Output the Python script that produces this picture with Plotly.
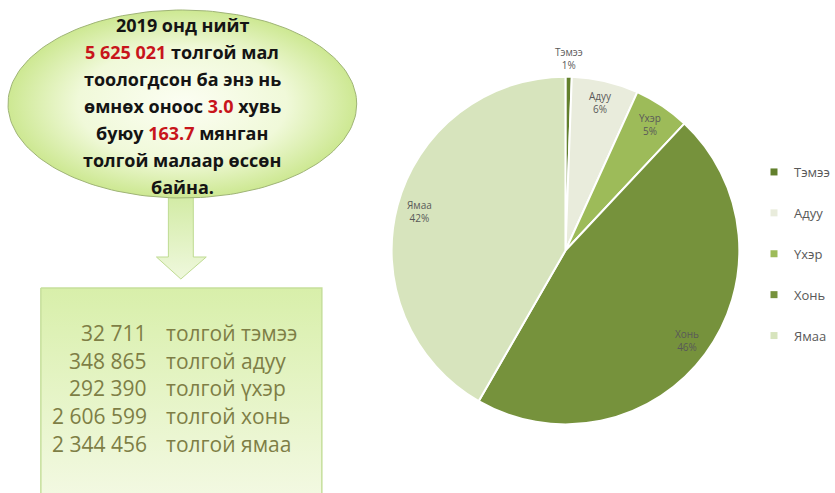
import numpy as np
import plotly.graph_objects as go

# ---- data ----
labels = ["Тэмээ", "Адуу", "Үхэр", "Хонь", "Ямаа"]
values = [32711, 348865, 292390, 2606599, 2344456]
colors = ["#62802c", "#e9ecdc", "#9dbb59", "#76923c", "#d7e4bd"]
year = 2019
growth_pct = 3.0
growth_heads_thousand = 163.7

W, H = 835, 493
FONT = "Open Sans"
total = sum(values)


def fmt(n):
    return f"{n:,}".replace(",", " ")


def py(y):
    # pixel-from-top -> axis value
    return H - y


fig = go.Figure()

# ---- arrow ----
arr_x = [169, 194, 194, 207, 181.5, 157, 169, 169]
arr_y = [195, 195, 257, 257, 279, 257, 257, 195]
fig.add_trace(go.Scatter(
    x=arr_x, y=[py(v) for v in arr_y], mode="lines", fill="toself",
    line=dict(color="#bfdb92", width=1),
    fillgradient=dict(type="vertical", colorscale=[[0, "#eff8dd"], [1, "#d2eba4"]]),
    hoverinfo="skip", showlegend=False))

# ---- ellipse ----
t = np.linspace(0, 2 * np.pi, 181)
ex = 183 + 175 * np.cos(t)
ey = 104 + 94 * np.sin(t)
fig.add_trace(go.Scatter(
    x=ex, y=[py(v) for v in ey], mode="lines", fill="toself",
    line=dict(color="#9fb476", width=1),
    fillgradient=dict(type="radial", colorscale=[[0, "#fcfef3"], [0.6, "#f0f9d9"], [1, "#cde892"]]),
    hoverinfo="skip", showlegend=False))

# ---- box ----
bx = [41, 323, 323, 41, 41]
by = [288, 288, 500, 500, 288]
fig.add_trace(go.Scatter(
    x=bx, y=[py(v) for v in by], mode="lines", fill="toself",
    line=dict(color="#c6df9c", width=1.5),
    fillgradient=dict(type="vertical", colorscale=[[0, "#f3f9e3"], [1, "#d8efaa"]]),
    hoverinfo="skip", showlegend=False))

# ---- pie ----
pie_l, pie_r, pie_t, pie_b = 393, 742, 76, 425
fig.add_trace(go.Pie(
    labels=labels, values=values, sort=False, direction="clockwise", rotation=0,
    marker=dict(colors=colors, line=dict(color="white", width=2)),
    textinfo="none", hoverinfo="label+value+percent", showlegend=False,
    domain=dict(x=[pie_l / W, pie_r / W], y=[1 - pie_b / H, 1 - pie_t / H])))

# legend entries
for lab, col in zip(labels, colors):
    fig.add_trace(go.Scatter(
        x=[None], y=[None], mode="markers", name=lab, legendgroup=lab,
        marker=dict(symbol="square", size=7, color=col), hoverinfo="skip"))

# pie labels
cx, cy = (pie_l + pie_r) / 2, (pie_t + pie_b) / 2
R = (pie_r - pie_l) / 2
cum = 0.0
for lab, v in zip(labels, values):
    frac = v / total
    mid = 2 * np.pi * (cum + frac / 2)
    cum += frac
    r = R * (1.1 if frac < 0.02 else 0.87)
    lx = cx + r * np.sin(mid)
    ly = cy - r * np.cos(mid)
    fig.add_annotation(x=lx, y=py(ly), xref="x", yref="y", showarrow=False,
                       text=f"{lab}<br>{frac * 100:.0f}%",
                       font=dict(family=FONT, size=10, color="#595959"))

# ellipse text
red = "#c8151b"


def rd(s):
    return f'<span style="color:{red}">{s}</span>'


lines = [
    f"{year} онд нийт",
    f"{rd(fmt(total))} толгой мал",
    "тоологдсон ба энэ нь",
    f"өмнөх оноос {rd(f'{growth_pct:.1f}')} хувь",
    f"буюу {rd(f'{growth_heads_thousand:.1f}')} мянган",
    "толгой малаар өссөн",
    "байна.",
]
for i, ln in enumerate(lines):
    fig.add_annotation(x=183, y=py(25 + 27 * i), xref="x", yref="y", showarrow=False,
                       text=f"<b>{ln}</b>",
                       font=dict(family=FONT, size=18, color="#141414"))

# box text
box_col = "#7e7e45"
for i, (lab, v) in enumerate(zip(labels, values)):
    yy = py(333 + 27.7 * i)
    fig.add_annotation(x=150, y=yy, xref="x", yref="y", showarrow=False, xanchor="right",
                       text=fmt(v), font=dict(family=FONT, size=21, color=box_col))
    fig.add_annotation(x=165, y=yy, xref="x", yref="y", showarrow=False, xanchor="left",
                       text="толгой " + lab.lower(), font=dict(family=FONT, size=21, color=box_col))

fig.update_layout(
    width=W, height=H, margin=dict(l=0, r=0, t=0, b=0),
    paper_bgcolor="white", plot_bgcolor="white",
    xaxis=dict(range=[0, W], visible=False, fixedrange=True),
    yaxis=dict(range=[0, H], visible=False, fixedrange=True),
    showlegend=True,
    legend=dict(x=757 / W, xanchor="left", y=1 - 157 / H, yanchor="top",
                tracegroupgap=21, bgcolor="rgba(0,0,0,0)", itemwidth=30,
                font=dict(family=FONT, size=13, color="#595959")),
    font=dict(family=FONT),
)

fig.write_html("out.html", config={"displayModeBar": False})
with open("out.html", encoding="utf-8") as f:
    html = f.read()
html = html.replace("<head>", "<head><style>html,body{margin:0;padding:0;overflow:hidden}</style>", 1)
with open("out.html", "w", encoding="utf-8") as f:
    f.write(html)
